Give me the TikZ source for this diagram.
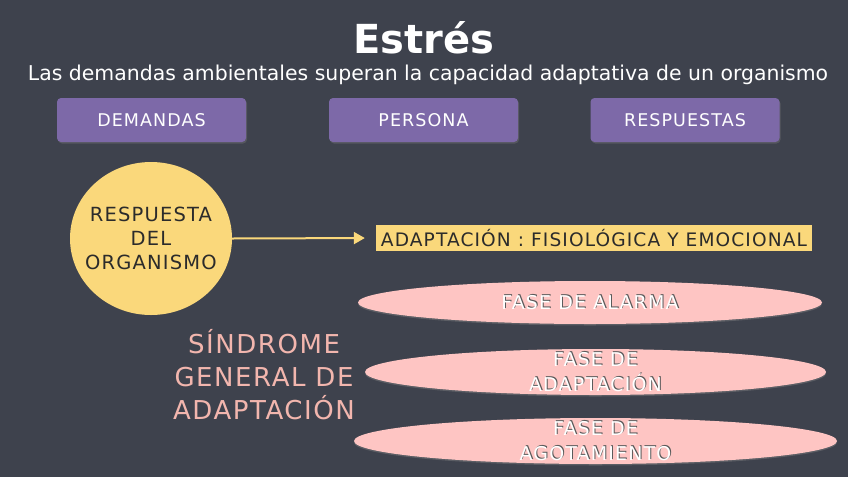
\documentclass[tikz,border=0pt]{standalone}
\usepackage{fontspec}
\setmainfont{DejaVu Sans}
\newfontfamily\chalk[LetterSpace=6]{DejaVu Sans}
\newfontfamily\chalkb{DejaVu Sans Bold}
\usetikzlibrary{shapes.geometric,arrows.meta,shadows}
\definecolor{board}{HTML}{3E424D}
\definecolor{lilac}{HTML}{7D69A8}
\definecolor{sun}{HTML}{FAD87B}
\definecolor{rose}{HTML}{FEC5C3}
\definecolor{rosetext}{HTML}{F2B6AE}
\definecolor{ink}{HTML}{2B2B2B}
\definecolor{shade}{HTML}{5A5A5A}
\tikzset{
  topbox/.style={draw=none, fill=lilac, rounded corners=4pt, minimum width=189pt, minimum height=44pt,
    text=white, font=\chalk\fontsize{17.5}{20}\selectfont, inner sep=0pt,
    drop shadow={shadow xshift=1pt, shadow yshift=-1.5pt, opacity=0.35}},
  phase/.style={ellipse, fill=rose, draw=none, inner sep=0pt,
    drop shadow={shadow xshift=0pt, shadow yshift=-1.5pt, opacity=0.45}},
  phasetxt/.style={text=white, font=\chalk\fontsize{19}{25}\selectfont, align=center, inner sep=0pt},
  phaseshd/.style={text=shade, font=\chalk\fontsize{19}{25}\selectfont, align=center, inner sep=0pt},
}
\begin{document}
\begin{tikzpicture}[x=1pt,y=-1pt]
\fill[board] (0,0) rectangle (848,477);
\useasboundingbox (0,0) rectangle (848,477);

\node[anchor=base, text=white, font=\chalkb\fontsize{40}{44}\selectfont, inner sep=0pt] (title) at (424,53) {Estrés};
\node[anchor=base, text=white, font=\fontsize{18.5}{20}\selectfont, inner sep=0pt] (sub) at (428,80)
  {\resizebox{800pt}{!}{Las demandas ambientales superan la capacidad adaptativa de un organismo}};

\node[topbox] (dem) at (151.5,120) {DEMANDAS};
\node[topbox] (per) at (423.5,120) {PERSONA};
\node[topbox] (res) at (685,120) {RESPUESTAS};

\node[ellipse, fill=sun, minimum width=162pt, minimum height=153pt, inner sep=0pt] (org) at (151,238.5) {};
\node[text=ink, align=center, inner sep=0pt, font=\chalk\fontsize{19.5}{24}\selectfont] (orgt) at (org.center)
  {RESPUESTA\\DEL\\ORGANISMO};

\node[fill=sun, minimum width=436pt, minimum height=26pt, inner sep=0pt, text=ink,
  font=\chalk\fontsize{17}{20}\selectfont] (adap) at (594,238)
  {\resizebox{426pt}{!}{ADAPTACIÓN : FISIOLÓGICA Y EMOCIONAL}};

\draw[sun, line width=2pt, -{Triangle[length=11pt,width=12pt]}, shorten >=11pt] (org.east) -- (adap.west);

\node[text=rosetext, align=center, font=\chalk\fontsize{26}{33}\selectfont, inner sep=0pt] (sgda) at (264,375)
  {SÍNDROME\\GENERAL DE\\ADAPTACIÓN};

\node[phase, minimum width=464pt, minimum height=43pt] (f1) at (590,302.5) {};
\node[phase, minimum width=461pt, minimum height=46pt] (f2) at (595.5,372) {};
\node[phase, minimum width=483pt, minimum height=46pt] (f3) at (595.5,441) {};

\node[phaseshd] (f1s) at ([shift={(1pt,1pt)}]f1.center) {FASE DE ALARMA};
\node[phasetxt] (f1t) at (f1.center) {FASE DE ALARMA};
\node[phaseshd] (f2s) at ([shift={(1pt,1pt)}]f2.center) {FASE DE\\ADAPTACIÓN};
\node[phasetxt] (f2t) at (f2.center) {FASE DE\\ADAPTACIÓN};
\node[phaseshd] (f3s) at ([shift={(1pt,1pt)}]f3.center) {FASE DE\\AGOTAMIENTO};
\node[phasetxt] (f3t) at (f3.center) {FASE DE\\AGOTAMIENTO};
\end{tikzpicture}
\end{document}
